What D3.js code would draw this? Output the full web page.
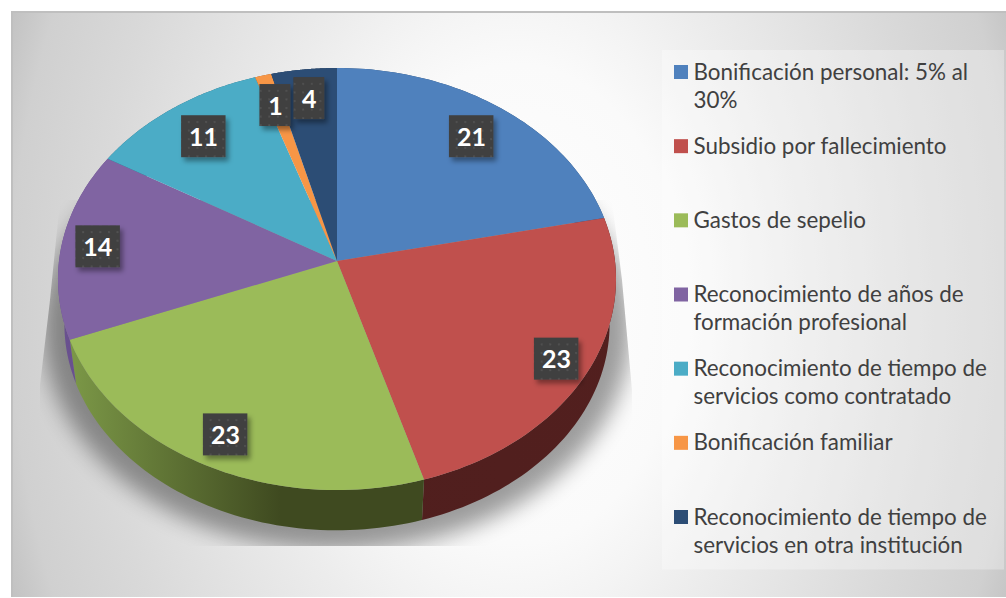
<!DOCTYPE html>
<html><head><meta charset="utf-8">
<script src="https://cdn.jsdelivr.net/npm/d3@7/dist/d3.min.js"></script>
<style>html,body{margin:0;padding:0;background:#fff}svg{display:block}</style>
</head><body><svg id="c" width="1006" height="598"></svg>
<script>
const categories = ["Bonificación personal: 5% al 30%","Subsidio por fallecimiento","Gastos de sepelio","Reconocimiento de años de formación profesional","Reconocimiento de tiempo de servicios como contratado","Bonificación familiar","Reconocimiento de tiempo de servicios en otra institución"];
const legendLines = [["Bonificación personal: 5% al","30%"],["Subsidio por fallecimiento"],["Gastos de sepelio"],["Reconocimiento de años de","formación profesional"],["Reconocimiento de tiempo de","servicios como contratado"],["Bonificación familiar"],["Reconocimiento de tiempo de","servicios en otra institución"]];
const values = [21,23,23,14,11,1,4];
const colors = ["#4f81bd","#c0504d","#9bbb59","#8064a2","#4bacc6","#f79646","#2c4d75"];
const sideStops = [["#2c4d75","#2c4d75"],["#4d1e1d","#55201f"],["#7a9646","#3f4a20"],["#6a5190","#5c4880"],["#2a6a7c","#2a6a7c"],["#a0581f","#a0581f"],["#1d3450","#1d3450"]];
const labelRadii = [.807,.88,.86,.87,.807,.83,.84];

const W=1006,H=598,cx=337,cy=261,R=278,S=209.5,k=.0853;
const wallScale=.977, wallDrop=45.5;
const svg=d3.select("#c");
const defs=svg.append("defs");

// background
const bg=defs.append("radialGradient").attr("id","bg").attr("gradientUnits","userSpaceOnUse")
  .attr("cx",0).attr("cy",0).attr("r",1).attr("gradientTransform","translate(515,304) scale(560,800)");
[[0,"#ffffff"],[.3,"#fafafa"],[.38,"#f4f4f4"],[.48,"#ececec"],[.75,"#d9d9d9"],[.9,"#d0d0d0"],[.98,"#c0c0c0"],[1,"#bdbdbd"]]
  .forEach(s=>bg.append("stop").attr("offset",s[0]).attr("stop-color",s[1]));
svg.append("rect").attr("x",12).attr("y",12).attr("width",W-12).attr("height",H-13).attr("fill","url(#bg)");
svg.append("path").attr("d",`M12,${H-1}V12H${W}`).attr("fill","none").attr("stroke","#bfbfbf").attr("stroke-width",2);

// perspective projection of the pie disc
const project=(a,r,scale=1,drop=0)=>{
  const u=r*Math.sin(a),v=r*Math.cos(a),D=1+k*v;
  return [cx+R*u/D*scale, cy-S*v/D*scale+drop];
};
const pie=d3.pie().sort(null).value(d=>d);
const arcs=pie(values);
const line=d3.line().curve(d3.curveLinear);
const rim=(d,scale,drop)=>d3.range(0,61).map(i=>project(d.startAngle+(d.endAngle-d.startAngle)*i/60,1,scale,drop));

// shadow
defs.append("filter").attr("id","blur").attr("x","-20%").attr("y","-20%").attr("width","140%").attr("height","140%")
  .append("feGaussianBlur").attr("stdDeviation",11);
defs.append("clipPath").attr("id","shadowClip").append("polygon")
  .attr("points","60,200 50,300 40,385 40,546 632,546 632,390 622,280 612,200");
const full={startAngle:0,endAngle:2*Math.PI};
svg.append("g").attr("clip-path","url(#shadowClip)").append("path")
  .attr("d",line(rim(full,1.055,48))+"Z").attr("fill","#000").attr("opacity",.38).attr("filter","url(#blur)");

// side walls
arcs.forEach((d,i)=>{
  const g=defs.append("linearGradient").attr("id","side"+i).attr("gradientUnits","userSpaceOnUse")
    .attr("x1",i==2?75:0).attr("x2",i==2?280:W).attr("y1",0).attr("y2",0);
  g.append("stop").attr("offset",0).attr("stop-color",sideStops[i][0]);
  g.append("stop").attr("offset",1).attr("stop-color",sideStops[i][1]);
});
svg.append("g").selectAll("path").data(arcs).join("path")
  .attr("d",d=>line(rim(d,1,0).concat(rim(d,wallScale,wallDrop).reverse()))+"Z")
  .attr("fill",(d,i)=>`url(#side${i})`);

// top face
svg.append("g").selectAll("path").data(arcs).join("path")
  .attr("d",d=>line([[cx,cy]].concat(rim(d,1,0)))+"Z")
  .attr("fill",(d,i)=>colors[i]);

// labels
const pat=defs.append("pattern").attr("id","dots").attr("patternUnits","userSpaceOnUse").attr("width",8.6).attr("height",8.6);
pat.append("rect").attr("width",8.6).attr("height",8.6).attr("fill","#3f3f3f");
pat.append("rect").attr("x",2).attr("y",2).attr("width",2).attr("height",2).attr("fill","#525252");
const sh=defs.append("filter").attr("id","ds").attr("x","-30%").attr("y","-30%").attr("width","170%").attr("height","170%");
sh.append("feDropShadow").attr("dx",3).attr("dy",4).attr("stdDeviation",2.5).attr("flood-color","#000").attr("flood-opacity",.38);
const lab=svg.append("g").selectAll("g").data(arcs).join("g")
  .attr("transform",(d,i)=>`translate(${project((d.startAngle+d.endAngle)/2,labelRadii[i])})`);
lab.append("rect")
  .attr("x",d=>d.value>=10?-22:-15.5).attr("width",d=>d.value>=10?44.5:31)
  .attr("y",-21).attr("height",42).attr("fill","url(#dots)").attr("filter","url(#ds)");
lab.append("text").text(d=>d.value).attr("text-anchor","middle").attr("y",9.5).attr("x",.5)
  .attr("font-family","Lato").attr("font-weight",700).attr("font-size",25).attr("fill","#fff");

// legend
svg.append("rect").attr("x",662).attr("y",50).attr("width",342).attr("height",519.5).attr("fill","#fff").attr("opacity",.3);
const rowY=d3.scaleLinear().domain([0,6]).range([72,517]);
const row=svg.append("g").selectAll("g").data(legendLines).join("g").attr("transform",(d,i)=>`translate(0,${rowY(i)})`);
row.append("rect").attr("x",674).attr("y",-7).attr("width",14).attr("height",14).attr("fill",(d,i)=>colors[i]);
row.selectAll("text").data(d=>d).join("text").text(d=>d)
  .attr("x",693.5).attr("y",(d,j)=>7.5+j*28)
  .attr("font-family","Lato").attr("font-size",22.4).attr("fill","#404040");
</script></body></html>
